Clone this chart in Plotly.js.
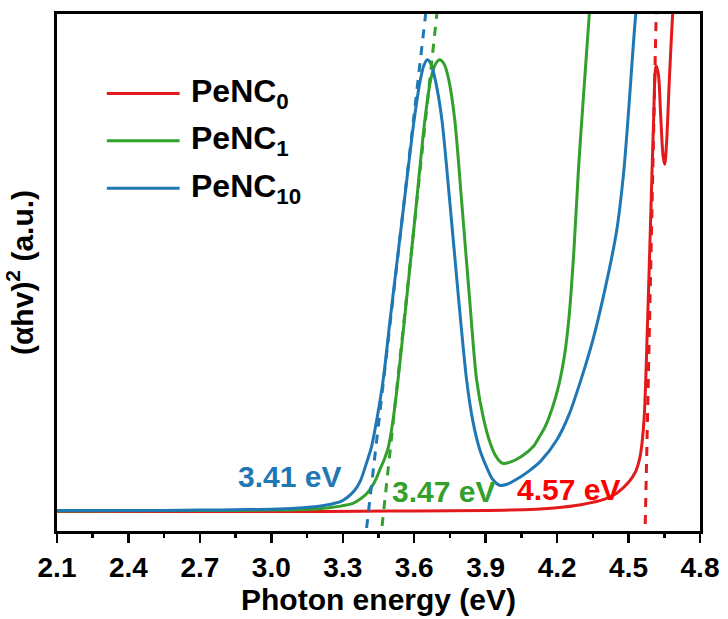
<!DOCTYPE html>
<html>
<head>
<meta charset="utf-8">
<script src="https://cdn.plot.ly/plotly-3.0.1.min.js"></script>
<style>html,body{margin:0;padding:0;background:#fff;}#chart{width:728px;height:619px;}</style>
</head>
<body>
<div id="chart"></div>
<script>
// ---- data ----
var seriesNames = ['PeNC<sub>0</sub>', 'PeNC<sub>1</sub>', 'PeNC<sub>10</sub>'];
var seriesColors = ['#e31a1c', '#33a02c', '#1f78b4'];

var redE = [2.1, 3.0, 3.5, 4.0, 4.2, 4.3, 4.4, 4.45, 4.5, 4.53, 4.55, 4.565, 4.58, 4.595, 4.605, 4.615, 4.625, 4.635, 4.645, 4.652, 4.66, 4.67, 4.68, 4.69];
var redV = [-0.001, -0.001, 0.0, 0.002, 0.007, 0.013, 0.024, 0.036, 0.058, 0.08, 0.114, 0.184, 0.384, 0.624, 0.784, 0.896, 0.88, 0.794, 0.714, 0.698, 0.744, 0.854, 0.954, 1.044];

var greenE = [2.1, 2.7, 3.0, 3.2, 3.29, 3.34, 3.372, 3.4, 3.423, 3.44, 3.456, 3.475, 3.49, 3.51, 3.532, 3.56, 3.6, 3.645, 3.67, 3.69, 3.707, 3.725, 3.745, 3.77, 3.799, 3.833, 3.862, 3.892, 3.921, 3.946, 3.971, 4.0, 4.05, 4.1, 4.126, 4.15, 4.2, 4.23, 4.25, 4.27, 4.29, 4.31, 4.335, 4.35];
var greenV = [0.0, 0.001, 0.002, 0.005, 0.01, 0.015, 0.024, 0.035, 0.05, 0.065, 0.084, 0.105, 0.126, 0.18, 0.264, 0.39, 0.575, 0.788, 0.87, 0.9, 0.908, 0.9, 0.868, 0.788, 0.624, 0.424, 0.264, 0.184, 0.134, 0.108, 0.096, 0.098, 0.11, 0.13, 0.15, 0.17, 0.24, 0.31, 0.39, 0.52, 0.69, 0.83, 0.998, 1.1];

var blueE = [2.1, 2.4, 2.7, 2.9, 3.0, 3.1, 3.2, 3.25, 3.29, 3.32, 3.35, 3.375, 3.395, 3.42, 3.445, 3.47, 3.5, 3.55, 3.6, 3.625, 3.64, 3.655, 3.67, 3.69, 3.716, 3.749, 3.787, 3.82, 3.845, 3.875, 3.908, 3.929, 3.959, 3.99, 4.03, 4.08, 4.13, 4.2, 4.25, 4.3, 4.35, 4.4, 4.45, 4.48, 4.5, 4.53, 4.55];
var blueV = [0.001, 0.001, 0.002, 0.003, 0.004, 0.006, 0.01, 0.014, 0.019, 0.028, 0.042, 0.062, 0.09, 0.128, 0.19, 0.265, 0.39, 0.59, 0.788, 0.866, 0.896, 0.908, 0.9, 0.864, 0.788, 0.624, 0.424, 0.264, 0.184, 0.124, 0.084, 0.064, 0.052, 0.054, 0.064, 0.08, 0.1, 0.144, 0.194, 0.264, 0.344, 0.444, 0.564, 0.684, 0.804, 0.998, 1.08];

// Tauc tangent lines (end points)
var redTanE = [4.570, 4.616];   var redTanV = [-0.026, 1.0];
var greenTanE = [3.465, 3.695]; var greenTanV = [-0.030, 1.0];
var blueTanE = [3.400, 3.648];  var blueTanV = [-0.034, 1.0];

var gapLabels = ['4.57 eV', '3.47 eV', '3.41 eV'];
var gapLabelE = [4.247, 3.722, 3.075];
var gapLabelV = [0.044, 0.040, 0.070];
var gapLabelColors = ['#ff0000', '#33a02c', '#1f78b4'];

var xTickStart = 2.1, xTickStep = 0.3;

// ---- chart ----
var FONT = 'Liberation Sans, Arial, sans-serif';
function curve(x, y, c) {
  return {x: x, y: y, type: 'scatter', mode: 'lines', line: {color: c, width: 3, shape: 'spline', smoothing: 0.8}, showlegend: false, hoverinfo: 'skip'};
}
function tangent(x, y, c) {
  return {x: x, y: y, type: 'scatter', mode: 'lines', line: {color: c, width: 3, dash: '9px,8px'}, showlegend: false, hoverinfo: 'skip'};
}
var data = [
  curve(redE, redV, seriesColors[0]),
  curve(greenE, greenV, seriesColors[1]),
  curve(blueE, blueV, seriesColors[2]),
  tangent(redTanE, redTanV, seriesColors[0]),
  tangent(greenTanE, greenTanV, seriesColors[1]),
  tangent(blueTanE, blueTanV, seriesColors[2])
];

var annotations = [];
var shapes = [];
for (var i = 0; i < gapLabels.length; i++) {
  annotations.push({x: gapLabelE[i], y: gapLabelV[i], xref: 'x', yref: 'y', text: gapLabels[i], showarrow: false,
    font: {family: FONT, size: 30, weight: 'bold', color: gapLabelColors[i]}, xanchor: 'center', yanchor: 'middle'});
}
// legend drawn manually (long sample lines)
var legY = [0.846, 0.755, 0.663];
for (var j = 0; j < seriesNames.length; j++) {
  shapes.push({type: 'line', xref: 'paper', yref: 'paper', x0: 0.0775, x1: 0.1907, y0: legY[j], y1: legY[j],
    line: {color: seriesColors[j], width: 3}});
  annotations.push({x: 0.2047, y: legY[j], xref: 'paper', yref: 'paper', text: seriesNames[j], showarrow: false,
    font: {family: FONT, size: 32, weight: 'bold', color: '#000'}, xanchor: 'left', yanchor: 'middle'});
}

var layout = {
  width: 728, height: 619,
  margin: {l: 57, r: 28, t: 14, b: 88},
  paper_bgcolor: '#fff', plot_bgcolor: '#fff',
  font: {family: FONT, color: '#000'},
  xaxis: {
    range: [2.1, 4.8], tick0: xTickStart, dtick: xTickStep, tickformat: '.1f',
    ticks: 'outside', ticklen: 9, tickwidth: 2.5, tickcolor: '#000',
    showline: true, linewidth: 3, linecolor: '#000', mirror: true,
    showgrid: false, zeroline: false,
    tickfont: {family: FONT, size: 28, weight: 'bold', color: '#000'},
    minor: {dtick: xTickStep / 2, ticks: 'outside', ticklen: 4, tickwidth: 2.5, tickcolor: '#000', showgrid: false},
    title: {text: 'Photon energy (eV)', font: {family: FONT, size: 30, weight: 'bold', color: '#000'}, standoff: 6}
  },
  yaxis: {
    range: [-0.04, 1.0], showticklabels: false, ticks: '',
    showline: true, linewidth: 3, linecolor: '#000', mirror: true,
    showgrid: false, zeroline: false,
    title: {text: '(αhv)<sup>2</sup> (a.u.)', font: {family: FONT, size: 30, weight: 'bold', color: '#000'}, standoff: 12}
  },
  shapes: shapes,
  annotations: annotations
};

Plotly.newPlot('chart', data, layout, {displayModeBar: false, staticPlot: true});
</script>
</body>
</html>
